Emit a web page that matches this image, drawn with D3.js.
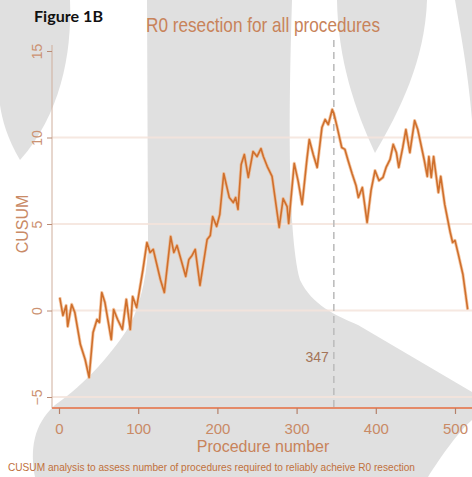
<!DOCTYPE html>
<html><head><meta charset="utf-8">
<script src="https://cdn.jsdelivr.net/npm/d3@7"></script>
<style>html,body{margin:0;padding:0;background:#fff;}svg{display:block;}</style>
</head><body>
<svg id="c" width="472" height="477"></svg>
<script>
// ---- data ----
const procedure = [1,5,9,11,16,20,27,33,38,43,48,51,54,58,66,69,74,80,85,90,93,98,106,111,115,119,122,128,133,141,145,149,154,160,164,168,172,178,187,191,194,199,203,208,215,220,223,226,230,234,239,245,250,255,258,263,269,278,283,288,290,297,302,307,313,316,321,326,332,336,340,345,347,351,357,361,365,370,375,378,383,389,394,399,404,409,413,418,422,426,429,434,438,443,449,453,461,465,467,470,473,479,482,487,494,497,500,504,510,516];
const cusum = [0.75,-0.29,0.29,-0.92,0.35,-0.12,-1.97,-2.83,-3.87,-1.27,-0.52,-0.69,1.04,0.46,-1.68,0.06,-0.52,-1.1,0.64,-1.1,0.81,0.17,2.37,3.93,3.35,3.53,2.95,1.79,1.04,4.28,3.35,3.76,2.95,1.97,2.95,3.18,3.53,1.45,4.10,4.34,5.43,4.86,5.55,7.92,6.53,6.24,6.53,5.84,8.44,9.02,7.69,9.19,8.90,9.36,8.90,8.32,7.75,4.80,6.47,6.01,5.03,8.50,7.46,6.13,8.73,9.88,9.02,8.27,10.58,11.04,10.75,11.62,11.39,10.64,9.42,9.31,8.67,7.92,7.23,6.53,7.11,5.09,6.94,8.09,7.51,7.69,8.27,8.73,9.60,9.13,8.27,9.42,10.46,9.13,10.98,10.46,8.73,7.75,8.90,7.69,8.90,6.82,7.75,6.13,4.51,3.93,4.05,3.29,2.08,0.06];
const xTicks = [0,100,200,300,400,500];
const yTicks = [-5,0,5,10,15];
const gridValues = [-5,0,5,10];
const markerProcedure = [347];
const figureLabel = "Figure 1B";
const title = "R0 resection for all procedures";
const xTitle = "Procedure number";
const yTitle = "CUSUM";
const caption = "CUSUM analysis to assess number of procedures required to reliably acheive R0 resection";

const svg = d3.select("#c");
const narrow = "'Liberation Sans Narrow','Arial Narrow','Liberation Sans',sans-serif";

// ---- background overlay shapes (decorative) ----
const bg = svg.append("g").attr("fill", "#e0e0e0");
bg.append("path").attr("d", "M0,0 L70,0 C72,55 60,115 20,160 C8,140 2,120 0,105 Z");
bg.append("path").attr("d", "M147,0 L292,0 C289,100 287,230 300,280 C312,305 335,315 358,325 L472,392 L472,420 C458,432 440,458 428,477 L35,477 C30,450 33,425 55,405 C85,385 115,350 130,325 C142,300 148,270 148,240 Z");
bg.append("path").attr("d", "M337,0 L427,0 C425,60 400,110 375,153 C355,110 338,60 337,0 Z");
bg.append("path").attr("d", "M455,0 L472,0 L472,120 C468,70 460,30 455,0 Z");

// ---- scales ----
const x = d3.scaleLinear().domain([0, 500]).range([59, 455]);
const y = d3.scaleLinear().domain([-5, 15]).range([397, 51]);
const xEnd = 472, axisX = 52, axisY = 408;

// grid
svg.append("g").selectAll("line").data(gridValues).join("line")
  .attr("x1", axisX).attr("x2", xEnd)
  .attr("y1", d => y(d)).attr("y2", d => y(d))
  .attr("stroke", "#f5e4dc").attr("stroke-width", 2).attr("opacity", 0.85);

// y axis
const yAxis = d3.axisLeft(y).tickValues(yTicks).tickSize(5).tickPadding(8).tickFormat(d3.format("d"));
const gy = svg.append("g").attr("transform", `translate(${axisX},0)`).call(yAxis);
gy.select(".domain").attr("stroke", "#cfae9c").attr("stroke-width", 1).attr("d", `M0,${y(15)-6}V${axisY}`);
gy.selectAll(".tick line").attr("stroke", "#b98c76");
gy.selectAll(".tick text")
  .attr("transform", "rotate(-90)").attr("x", 0).attr("y", -14)
  .attr("dy", "0.32em").attr("text-anchor", "middle")
  .attr("fill", "#cc9272").attr("font-family", narrow).attr("font-size", 14);

// x axis
const xAxis = d3.axisBottom(x).tickValues(xTicks).tickSize(6).tickPadding(9);
const gx = svg.append("g").attr("transform", `translate(0,${axisY})`).call(xAxis);
gx.select(".domain").attr("stroke", "#e48a68").attr("stroke-width", 2.2).attr("d", `M${axisX},0H${xEnd}`);
gx.selectAll(".tick line").attr("stroke", "#b4806a").attr("stroke-width", 1.2);
gx.selectAll(".tick text").attr("fill", "#c98a66").attr("font-family", narrow).attr("font-size", 15);

// marker line
svg.append("g").selectAll("line").data(markerProcedure).join("line")
  .attr("x1", d => x(d)).attr("x2", d => x(d))
  .attr("y1", 40).attr("y2", axisY)
  .attr("stroke", "#bdbdbd").attr("stroke-width", 1.6).attr("stroke-dasharray", "7,5");
svg.append("g").selectAll("text").data(markerProcedure).join("text")
  .attr("x", d => x(d) - 5).attr("y", 362).attr("text-anchor", "end")
  .attr("fill", "#a47458").attr("font-family", narrow).attr("font-size", 14)
  .text(d => d);

// CUSUM line
const pts = procedure.map((p, i) => [p, cusum[i]]);
const line = d3.line().x(d => x(d[0])).y(d => y(d[1]));
svg.append("path").datum(pts).attr("d", line)
  .attr("fill", "none").attr("stroke", "#f0b080").attr("stroke-width", 3.2).attr("stroke-linejoin", "round").attr("opacity", 0.7);
svg.append("path").datum(pts).attr("d", line)
  .attr("fill", "none").attr("stroke", "#cf6f2c").attr("stroke-width", 1.6).attr("stroke-linejoin", "round");

// texts
svg.append("text").attr("x", 34).attr("y", 22).text(figureLabel)
  .attr("font-family", "Lato,'Open Sans',sans-serif").attr("font-weight", "bold").attr("font-size", 16).attr("fill", "#111")
  .attr("textLength", 69).attr("lengthAdjust", "spacingAndGlyphs");
svg.append("text").attr("x", 263).attr("y", 32).attr("text-anchor", "middle").text(title)
  .attr("font-family", narrow).attr("font-size", 21).attr("fill", "#c8835a")
  .attr("textLength", 234).attr("lengthAdjust", "spacingAndGlyphs");
svg.append("text").attr("x", 263).attr("y", 452).attr("text-anchor", "middle").text(xTitle)
  .attr("font-family", narrow).attr("font-size", 16).attr("fill", "#c8835a");
svg.append("text").attr("transform", "translate(28,224) rotate(-90)").attr("text-anchor", "middle").text(yTitle)
  .attr("font-family", narrow).attr("font-size", 16).attr("fill", "#c98a66");
svg.append("text").attr("x", 8).attr("y", 471).text(caption)
  .attr("font-family", narrow).attr("font-size", 11).attr("fill", "#c0703c")
  .attr("textLength", 407).attr("lengthAdjust", "spacingAndGlyphs");
</script>
</body></html>
